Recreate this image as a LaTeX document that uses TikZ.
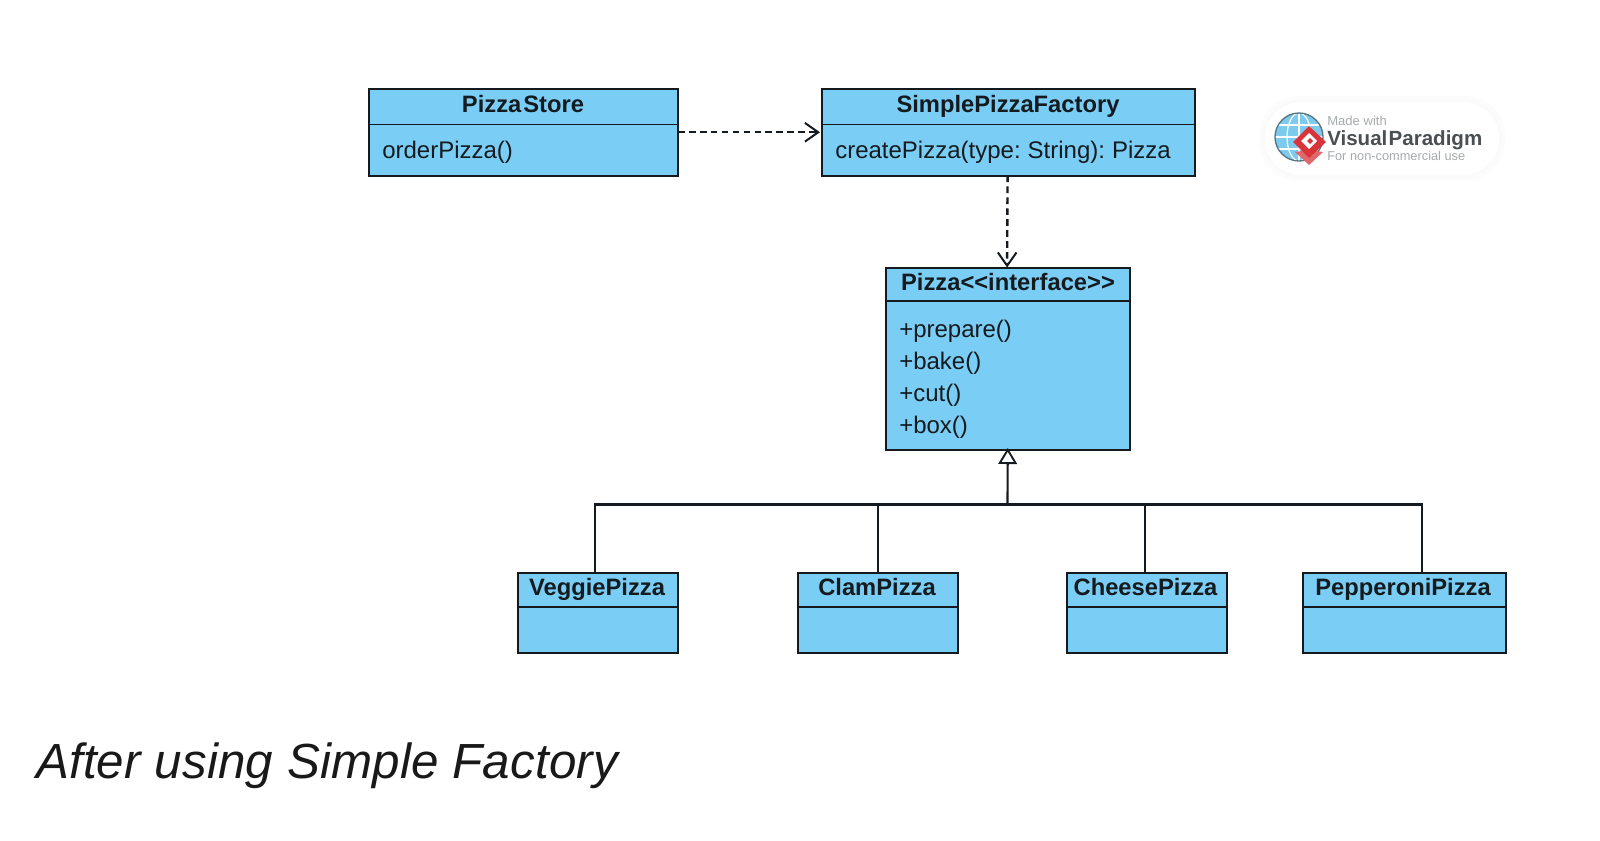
\documentclass[tikz,border=0pt]{standalone}
\usepackage{fontspec}
\setmainfont{Liberation Sans}
\newfontfamily\tightfont[WordSpace=0.72]{Liberation Sans}
\newfontfamily\capfont[LetterSpace=0.3]{Liberation Sans}
\usetikzlibrary{arrows.meta}
\definecolor{umlfill}{HTML}{7ACEF5}
\definecolor{umlink}{HTML}{141A1E}
\definecolor{vpgrey}{HTML}{4A4F52}
\definecolor{vplight}{HTML}{A8ABAD}
\definecolor{vpred}{HTML}{D8343A}
\definecolor{vpblue}{HTML}{7CCBEE}
\tikzset{
  x=0.75pt,y=-0.75pt,
  umlbox/.style={draw=umlink,fill=umlfill,line width=1.5pt,rectangle,inner sep=0pt,outer sep=0pt},
  divline/.style={draw=umlink,line width=1.3pt},
  titletext/.style={font=\fontsize{17.8}{20}\selectfont\bfseries,text=umlink,inner sep=0pt,anchor=base},
  bodytext/.style={font=\tightfont\fontsize{18}{20}\selectfont,text=umlink,inner sep=0pt,anchor=base west},
  dep/.style={draw=umlink,line width=1.8pt,dash pattern=on 5pt off 3.2pt,-{Straight Barb[length=10pt,width=14pt,line width=1.5pt]}},
  gen/.style={draw=umlink,line width=1.6pt},
  genhead/.style={draw=umlink,line width=1.6pt,-{Triangle[open,fill=white,length=12pt,width=14pt,line width=1.4pt]}},
}
% name, x1, y1, x2, y2, ydiv, title x, title baseline, title
\newcommand{\umlclass}[9]{%
  \node[umlbox,minimum width={(#4-#2)*0.75pt},minimum height={(#5-#3)*0.75pt}] (#1) at ({(#2+#4)/2},{(#3+#5)/2}) {};
  \draw[divline] (#1.west |- 0,#6) -- (#1.east |- 0,#6);
  \node[titletext] (#1title) at (#7,#8) {#9};
}
\begin{document}
\begin{tikzpicture}
\useasboundingbox (0,0) rectangle (1600,840);
\fill[white] (0,0) rectangle (1600,840);

\umlclass{ps}{368.5}{89}{678}{175.5}{124.5}{523}{112}{Pizza\hspace{1.5pt}Store}
\node[bodytext] (psbody) at (382,158) {orderPizza()};

\umlclass{spf}{822}{89}{1194.5}{175.5}{124.5}{1008}{112}{SimplePizzaFactory}
\node[bodytext] (spfbody) at (835,158) {createPizza(type: String): Pizza};

\umlclass{pz}{885.5}{267.5}{1130}{450}{301}{1008}{290}{Pizza<{}<interface>{}>}
\node[bodytext] (m1) at (899,337) {+prepare()};
\node[bodytext] (m2) at (899,369) {+bake()};
\node[bodytext] (m3) at (899,401) {+cut()};
\node[bodytext] (m4) at (899,433) {+box()};

\umlclass{vg}{517.5}{572.5}{678}{653}{607}{597}{595}{VeggiePizza}
\umlclass{cl}{797.5}{572.5}{958}{653}{607}{877}{595}{ClamPizza}
\umlclass{ch}{1066.5}{572.5}{1226.5}{653}{607}{1145.5}{595}{CheesePizza}
\umlclass{pp}{1302.5}{572.5}{1505.5}{653}{607}{1403}{595}{PepperoniPizza}

\draw[dep,shorten >=1.5pt] (ps.east) -- (spf.west);
\draw[dep] ([xshift=-0.5pt]spf.south) -- ([xshift=-0.5pt]pz.north);

\coordinate (hub) at (1007.5,504.5);
\coordinate (vgtop) at (594.7,572);
\coordinate (cltop) at (877.7,572);
\coordinate (chtop) at (1145.1,572);
\coordinate (pptop) at (1422,572);
\draw[gen] (vgtop) |- (pptop |- hub) -- (pptop);
\draw[gen] (cltop) -- (cltop |- hub);
\draw[gen] (chtop) -- (chtop |- hub);
\draw[genhead] (hub) -- ([yshift=1.5pt]pz.south);

% Visual Paradigm badge
\foreach \w/\g in {12/1,9/1,6/2,3/2}{
  \fill[black!\g!white,rounded corners=30pt] ({1265-\w/2},{102-\w/2}) rectangle ({1499+\w/2},{175+\w/2});
}
\fill[white,rounded corners=27pt] (1265,102) rectangle (1499,175);
\fill[vpblue] (1299,137) circle [radius=24];
\begin{scope}
  \clip (1299,137) circle [radius=24];
  \draw[white,line width=0.9pt] (1275,125) -- (1323,125) (1275,137) -- (1323,137) (1275,149) -- (1323,149);
  \draw[white,line width=0.9pt] (1299,113) -- (1299,161);
  \draw[white,line width=0.9pt] (1299,137) ellipse [x radius=12,y radius=24];
\end{scope}
\draw[vpgrey!70!vpblue,line width=1pt] (1299,137) circle [radius=24];
\fill[vpred!75!white] (1309,150) -- (1323,152) -- (1309,165) -- (1295,152) -- cycle;
\fill[vpred] (1309,126) -- (1326,142) -- (1309,158) -- (1293,142) -- cycle;
\fill[white] (1309,133) -- (1317,141) -- (1309,149) -- (1301,141) -- cycle;
\fill[vpred] (1310,138) -- (1313,141) -- (1310,144) -- (1307,141) -- cycle;
\node[font=\fontsize{9.8}{12}\selectfont,text=vplight,inner sep=0pt,anchor=base west] (vp1) at (1327,125) {Made with};
\node[font=\fontsize{15.4}{18}\selectfont\bfseries,text=vpgrey,inner sep=0pt,anchor=base west] (vp2) at (1327,145) {Visual\hspace{1pt}Paradigm};
\node[font=\fontsize{9.6}{12}\selectfont,text=vplight,inner sep=0pt,anchor=base west] (vp3) at (1327,160) {For non-commercial use};

\node[font=\capfont\itshape\fontsize{37}{40}\selectfont,text=black!90,inner sep=0pt,anchor=base west] (caption) at (36,778) {After using Simple Factory};
\end{tikzpicture}
\end{document}
